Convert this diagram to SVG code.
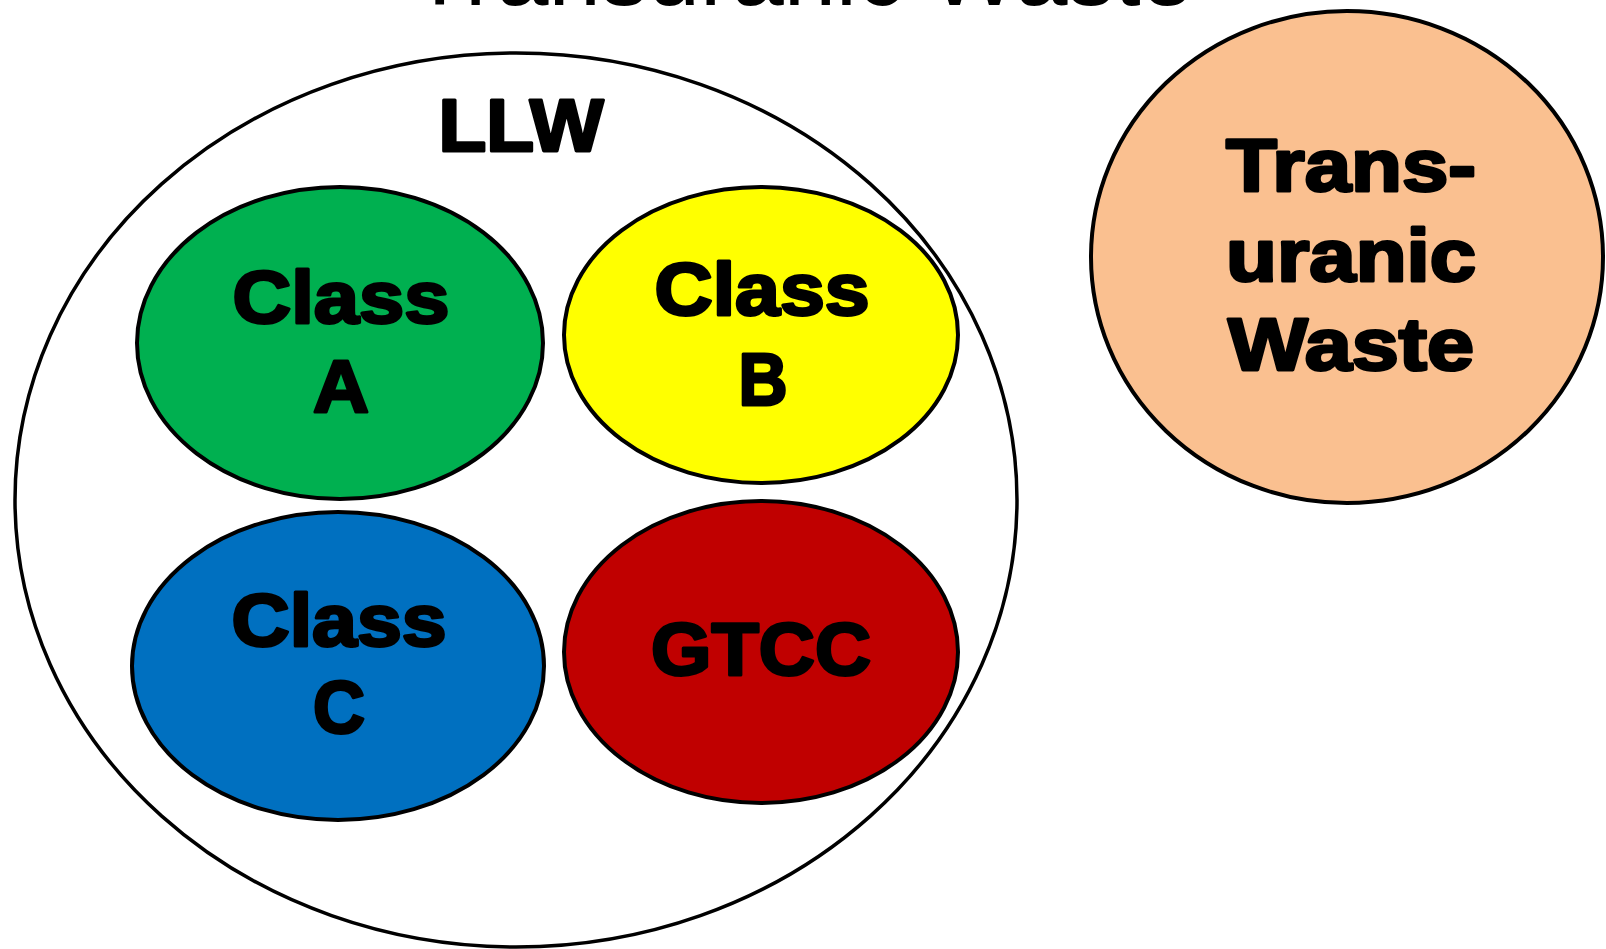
<svg xmlns="http://www.w3.org/2000/svg" width="1606" height="949" viewBox="0 0 1606 949">
<style>
.bg{fill:#ffffff}
.outer{fill:#ffffff;stroke:#000;stroke-width:3.5}
.node{stroke:#000;stroke-width:4}
.lbl{font-family:"Liberation Sans",Arial,sans-serif;font-weight:bold;font-size:74px;fill:#000;stroke:#000;stroke-width:3;stroke-linejoin:round;text-anchor:middle}
.title{font-family:"Liberation Sans",Arial,sans-serif;font-size:90px;fill:#000}
</style>
<rect class="bg" x="0" y="0" width="1606" height="949"/>
<text class="title" x="411" y="5" textLength="782" lengthAdjust="spacingAndGlyphs">Transuranic Waste</text>
<g id="llw">
<ellipse class="outer" cx="516" cy="500" rx="501" ry="447"/>
<text class="lbl" x="521" y="151" textLength="165" lengthAdjust="spacingAndGlyphs">LLW</text>
</g>
<g id="class-a">
<ellipse class="node" cx="340" cy="343" rx="203" ry="156" fill="#00B050"/>
<text class="lbl" x="341" y="323" textLength="217" lengthAdjust="spacingAndGlyphs">Class</text>
<text class="lbl" x="341" y="412" textLength="56" lengthAdjust="spacingAndGlyphs">A</text>
</g>
<g id="class-b">
<ellipse class="node" cx="761" cy="335" rx="197" ry="148" fill="#FFFF00"/>
<text class="lbl" x="762" y="315" textLength="215" lengthAdjust="spacingAndGlyphs">Class</text>
<text class="lbl" x="763" y="405" textLength="49" lengthAdjust="spacingAndGlyphs">B</text>
</g>
<g id="class-c">
<ellipse class="node" cx="338" cy="666" rx="206" ry="154" fill="#0070C0"/>
<text class="lbl" x="339" y="646" textLength="215" lengthAdjust="spacingAndGlyphs">Class</text>
<text class="lbl" x="339" y="733" textLength="52" lengthAdjust="spacingAndGlyphs">C</text>
</g>
<g id="gtcc">
<ellipse class="node" cx="761" cy="652" rx="197" ry="151" fill="#C00000"/>
<text class="lbl" x="761" y="675" textLength="220" lengthAdjust="spacingAndGlyphs">GTCC</text>
</g>
<g id="transuranic">
<ellipse class="node" cx="1347" cy="257" rx="256" ry="246" fill="#FAC090"/>
<text class="lbl" x="1351" y="191" textLength="250" lengthAdjust="spacingAndGlyphs">Trans-</text>
<text class="lbl" x="1351" y="281" textLength="250" lengthAdjust="spacingAndGlyphs">uranic</text>
<text class="lbl" x="1351" y="370" textLength="246" lengthAdjust="spacingAndGlyphs">Waste</text>
</g>
<g id="connectors"></g>
</svg>
